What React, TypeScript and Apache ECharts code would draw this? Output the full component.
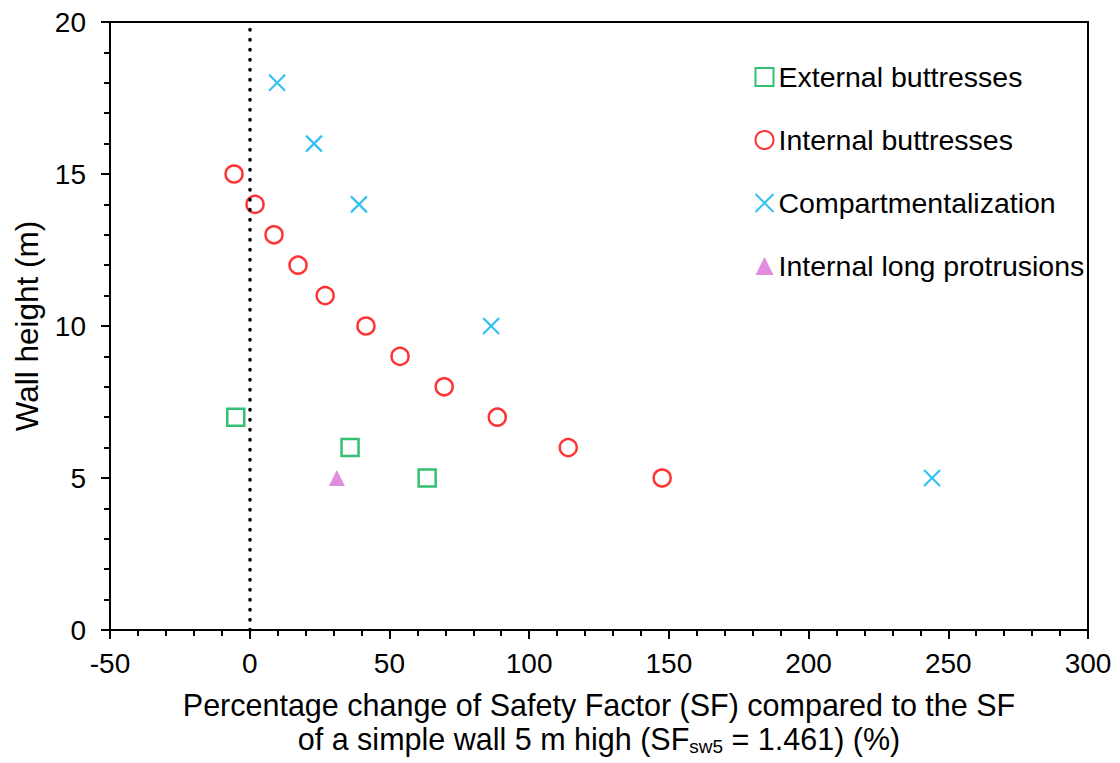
import React, { useEffect, useRef } from "react";
import * as echarts from "echarts";

const externalButtresses: [number, number][] = [
  [-5, 7],
  [35.9, 6],
  [63.5, 5],
];
const internalButtresses: [number, number][] = [
  [-5.6, 15],
  [1.9, 14],
  [8.7, 13],
  [17.3, 12],
  [27, 11],
  [41.6, 10],
  [53.8, 9],
  [69.6, 8],
  [88.6, 7],
  [114, 6],
  [147.6, 5],
];
const compartmentalization: [number, number][] = [
  [9.8, 18],
  [23, 16],
  [39.1, 14],
  [86.4, 10],
  [244.2, 5],
];
const internalLongProtrusions: [number, number][] = [[31.2, 5]];

const xRange = { min: -50, max: 300, interval: 50 };
const yRange = { min: 0, max: 20, interval: 5 };

const FONT = "Arial, 'Liberation Sans', sans-serif";

export default function App() {
  const ref = useRef<HTMLDivElement>(null);
  useEffect(() => {
    if (!ref.current) return;
    const chart = echarts.init(ref.current, undefined, { renderer: "svg" });
    chart.setOption({
      animation: false,
      backgroundColor: "#ffffff",
      textStyle: { fontFamily: FONT },
      grid: { left: 110, right: 32, top: 22, bottom: 133, show: true, borderColor: "#000", borderWidth: 2, backgroundColor: "transparent" },
      legend: {
        orient: "vertical",
        left: 748,
        top: 57,
        itemWidth: 18,
        itemHeight: 18,
        itemGap: 33,
        textStyle: { fontSize: 28.5, lineHeight: 30, color: "#000", fontFamily: FONT },
        data: ["External buttresses", "Internal buttresses", "Compartmentalization", "Internal long protrusions"],
      },
      xAxis: {
        type: "value",
        min: xRange.min,
        max: xRange.max,
        interval: xRange.interval,
        splitLine: { show: false },
        axisLine: { show: true, onZero: false, lineStyle: { color: "#000", width: 2 } },
        axisTick: { show: true, length: 9, lineStyle: { color: "#000", width: 2 } },
        minorTick: { show: true, splitNumber: 5, length: 6, lineStyle: { color: "#000", width: 2 } },
        axisLabel: { fontSize: 28, color: "#000", margin: 19, fontFamily: FONT },
        name: "Percentage change of Safety Factor (SF) compared to the SF\nof a simple wall 5 m high (SF{sub|sw5} = 1.461) (%)",
        nameLocation: "middle",
        nameGap: 58,
        nameTextStyle: {
          fontSize: 30.5,
          color: "#000",
          lineHeight: 34,
          fontFamily: FONT,
          verticalAlign: "top",
          rich: {
            sub: { fontSize: 19, verticalAlign: "bottom", padding: [16, 0, 0, 0], color: "#000", fontFamily: FONT, lineHeight: 34 },
          },
        },
      },
      yAxis: {
        type: "value",
        min: yRange.min,
        max: yRange.max,
        interval: yRange.interval,
        splitLine: { show: false },
        axisLine: { show: true, onZero: false, lineStyle: { color: "#000", width: 2 } },
        axisTick: { show: true, length: 9, lineStyle: { color: "#000", width: 2 } },
        minorTick: { show: true, splitNumber: 5, length: 6, lineStyle: { color: "#000", width: 2 } },
        axisLabel: { fontSize: 28, color: "#000", margin: 24, fontFamily: FONT },
        name: "Wall height (m)",
        nameLocation: "middle",
        nameGap: 67,
        nameTextStyle: { fontSize: 31.5, color: "#000", fontFamily: FONT },
      },
      series: [
        {
          name: "External buttresses",
          type: "scatter",
          data: externalButtresses,
          symbol: "rect",
          symbolSize: 17,
          itemStyle: { color: "rgba(255,255,255,0)", borderColor: "#00B050", borderWidth: 2.5 },
          markLine: {
            silent: true,
            symbol: "none",
            label: { show: false },
            lineStyle: { color: "#000", width: 3.5, type: [0.5, 9.5], cap: "round" },
            data: [{ xAxis: 0 }],
          },
          z: 3,
        },
        {
          name: "Internal buttresses",
          type: "scatter",
          data: internalButtresses,
          symbol: "circle",
          symbolSize: 17,
          itemStyle: { color: "rgba(255,255,255,0)", borderColor: "#FF0000", borderWidth: 2.5 },
          z: 3,
        },
        {
          name: "Compartmentalization",
          type: "scatter",
          data: compartmentalization,
          symbol: "path://M0,0L10,10M10,0L0,10",
          symbolSize: 16,
          itemStyle: { color: "none", borderColor: "#00B0F0", borderWidth: 2.2 },
          z: 3,
        },
        {
          name: "Internal long protrusions",
          type: "scatter",
          data: internalLongProtrusions,
          symbol: "triangle",
          symbolSize: 16,
          itemStyle: { color: "#DA70D6" },
          z: 3,
        },
      ],
    });
    return () => chart.dispose();
  }, []);
  return (
    <div
      ref={ref}
      style={{ position: "fixed", left: 0, top: 0, width: 1120, height: 763, background: "#fff" }}
    />
  );
}
